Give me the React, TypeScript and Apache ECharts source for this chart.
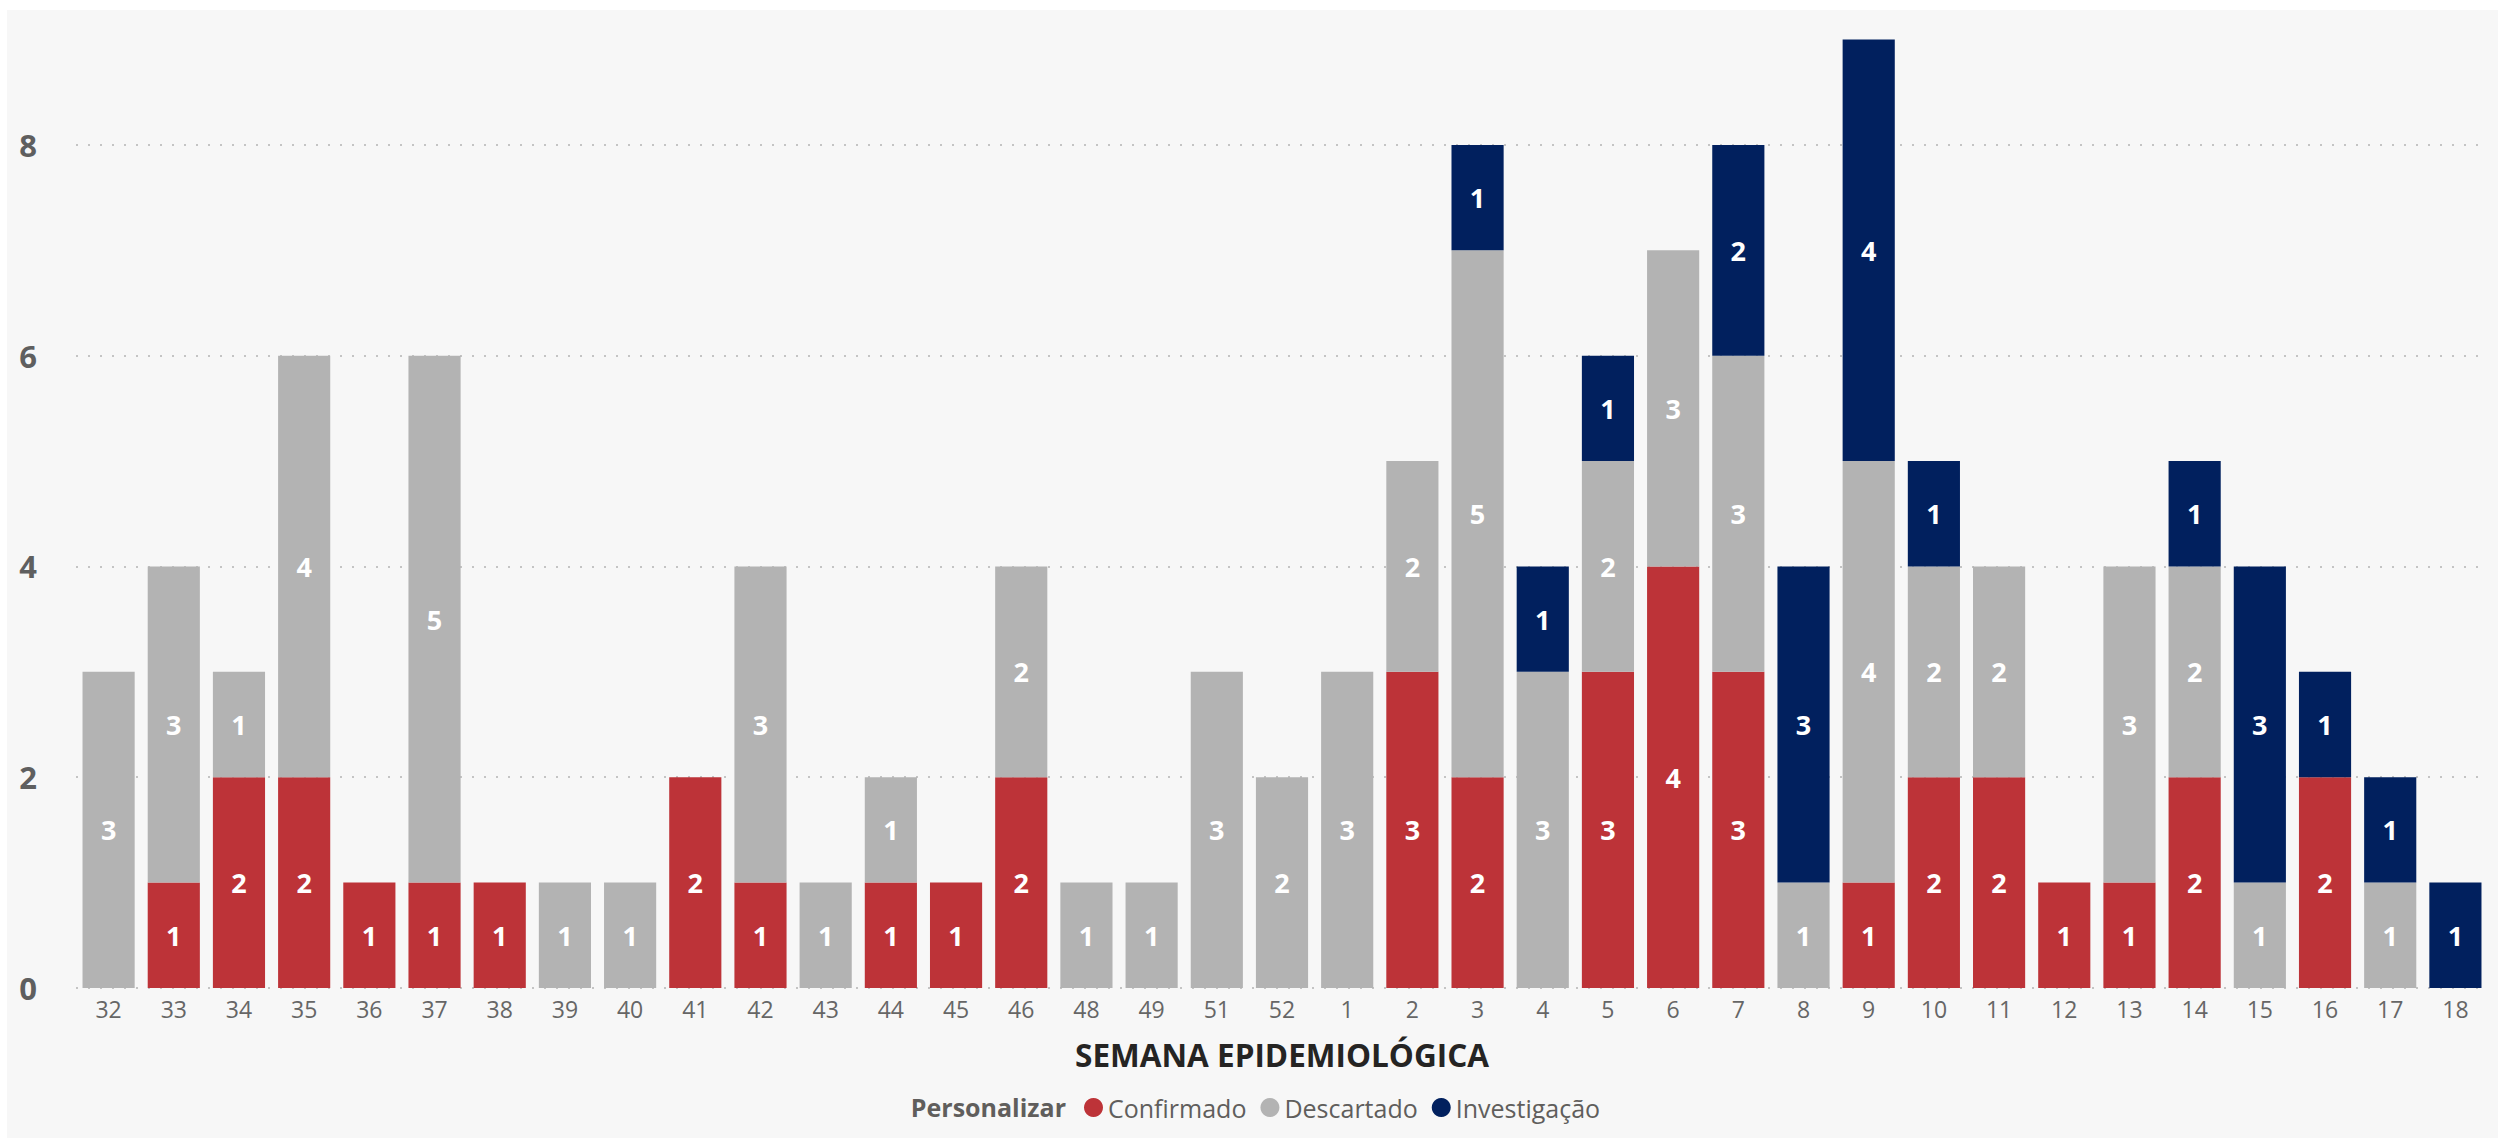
import React, { useEffect, useRef } from "react";
import * as echarts from "echarts";

const weeks = ["32","33","34","35","36","37","38","39","40","41","42","43","44","45","46","48","49","51","52","1","2","3","4","5","6","7","8","9","10","11","12","13","14","15","16","17","18"];
const confirmado = [0,1,2,2,1,1,1,0,0,2,1,0,1,1,2,0,0,0,0,0,3,2,0,3,4,3,0,1,2,2,1,1,2,0,2,0,0];
const descartado = [3,3,1,4,0,5,0,1,1,0,3,1,1,0,2,1,1,3,2,3,2,5,3,2,3,3,1,4,2,2,0,3,2,1,0,1,0];
const investigacao = [0,0,0,0,0,0,0,0,0,0,0,0,0,0,0,0,0,0,0,0,0,1,1,1,0,2,3,4,1,0,0,0,1,3,1,1,1];
const yTicks = [0, 2, 4, 6, 8];

const FONT = "'Open Sans', 'Noto Sans', sans-serif";
const COLORS = { confirmado: "#bd3338", descartado: "#b3b3b3", investigacao: "#01205e" };

export default function App() {
  const ref = useRef<HTMLDivElement>(null);
  useEffect(() => {
    if (!ref.current) return;
    const chart = echarts.init(ref.current, undefined, { renderer: "svg" });
    const label = {
      show: true,
      position: "inside",
      color: "#ffffff",
      fontFamily: FONT,
      fontWeight: "bold",
      fontSize: 27,
      formatter: (p: any) => (p.value ? String(p.value) : ""),
    };
    const mk = (name: string, data: number[], color: string) => ({
      name,
      type: "bar",
      stack: "total",
      data,
      barWidth: "80%",
      itemStyle: { color },
      label,
      emphasis: { disabled: true },
    });
    chart.setOption({
      animation: false,
      backgroundColor: "#f7f7f7",
      grid: { left: 69, right: 10, top: 29.6, bottom: 150, containLabel: false },
      xAxis: {
        type: "category",
        data: weeks,
        axisLine: { show: false },
        axisTick: { show: false },
        axisLabel: { color: "#666666", fontFamily: FONT, fontSize: 23, margin: 9, interval: 0 },
        name: "SEMANA EPIDEMIOLÓGICA",
        nameLocation: "middle",
        nameGap: 50,
        nameTextStyle: { color: "#252423", fontFamily: FONT, fontWeight: "bold", fontSize: 31.5 },
      },
      yAxis: {
        type: "value",
        min: yTicks[0],
        max: 9,
        interval: yTicks[1] - yTicks[0],
        axisLine: { show: false },
        axisTick: { show: false },
        axisLabel: {
          color: "#5f5f5f",
          fontFamily: FONT,
          fontWeight: "bold",
          fontSize: 31,
          margin: 39,
          showMaxLabel: false,
          formatter: (v: number) => (yTicks.includes(v) ? String(v) : ""),
        },
        splitLine: {
          show: true,
          showMaxLine: false,
          lineStyle: { color: "#c4c4c4", type: [2, 10], width: 2 },
        },
      },
      legend: {
        left: 1072,
        top: 1080,
        icon: "circle",
        itemWidth: 19,
        itemHeight: 19,
        itemGap: 14,
        textStyle: { color: "#605e5c", fontFamily: FONT, fontSize: 25 },
        data: ["Confirmado", "Descartado", "Investigação"],
      },
      graphic: [
        {
          type: "text",
          x: 1059,
          y: 1097,
          style: {
            text: "Personalizar",
            fill: "#605e5c",
            font: `bold 25px ${FONT}`,
            align: "right",
            verticalAlign: "middle",
          },
        },
      ],
      series: [
        mk("Confirmado", confirmado, COLORS.confirmado),
        mk("Descartado", descartado, COLORS.descartado),
        mk("Investigação", investigacao, COLORS.investigacao),
      ],
    });
    return () => chart.dispose();
  }, []);
  return (
    <div style={{ position: "fixed", left: 0, top: 0, width: 2498, height: 1138, background: "#ffffff" }}>
      <div ref={ref} style={{ position: "absolute", left: 7, top: 10, width: 2491, height: 1128 }} />
    </div>
  );
}
